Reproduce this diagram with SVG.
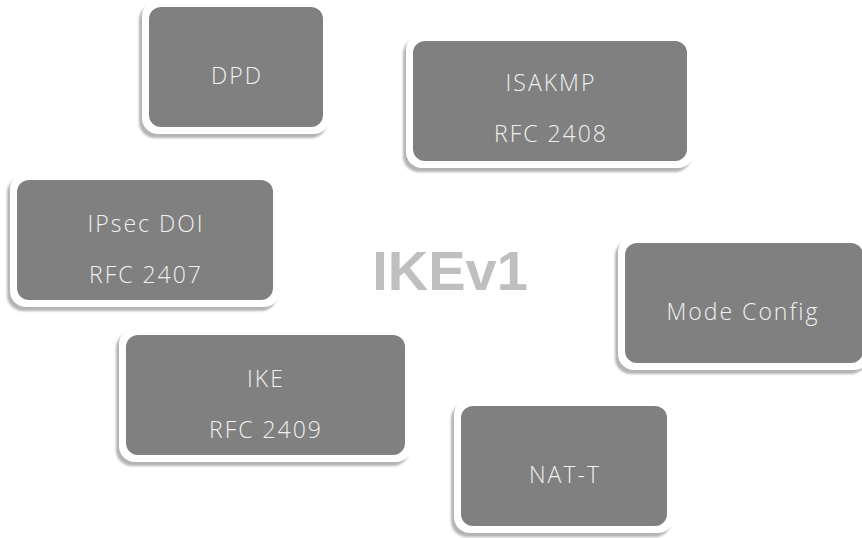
<svg xmlns="http://www.w3.org/2000/svg" width="862" height="538" viewBox="0 0 862 538">
<defs>
<filter id="sh" x="-10%" y="-10%" width="120%" height="130%">
<feGaussianBlur stdDeviation="1"/>
</filter>
</defs>
<style>
.shadow{fill:#b4b4b4;filter:url(#sh)}
.rim{fill:#ffffff}
.box{fill:#808080}
.lbl{font-family:"Open Sans","DejaVu Sans",sans-serif;font-weight:300;font-size:23px;letter-spacing:2px;fill:#f0f0f0;text-anchor:middle}
.title{font-family:"Liberation Sans",Arial,sans-serif;font-weight:bold;font-size:56px;fill:#bfbfbf;text-anchor:middle}
</style>
<rect width="862" height="538" fill="#ffffff"/>
<g id="connectors"></g>
<g id="dpd">
<rect class="shadow" x="139" y="4" width="188" height="134" rx="16"/>
<rect class="rim" x="142" y="0" width="188" height="134" rx="16"/>
<rect class="box" x="149" y="7" width="174" height="120" rx="12"/>
<text class="lbl" x="237" y="84">DPD</text>
</g>
<g id="isakmp">
<rect class="shadow" x="403" y="38" width="288" height="134" rx="16"/>
<rect class="rim" x="406" y="34" width="288" height="134" rx="16"/>
<rect class="box" x="413" y="41" width="274" height="120" rx="12"/>
<text class="lbl" x="551" y="91">ISAKMP</text>
<text class="lbl" x="551" y="142">RFC 2408</text>
</g>
<g id="ipsecdoi">
<rect class="shadow" x="7" y="177" width="270" height="134" rx="16"/>
<rect class="rim" x="10" y="173" width="270" height="134" rx="16"/>
<rect class="box" x="17" y="180" width="256" height="120" rx="12"/>
<text class="lbl" x="146" y="232">IPsec DOI</text>
<text class="lbl" x="146" y="283">RFC 2407</text>
</g>
<g id="modeconfig">
<rect class="shadow" x="615" y="240" width="252" height="134" rx="16"/>
<rect class="rim" x="618" y="236" width="252" height="134" rx="16"/>
<rect class="box" x="625" y="243" width="238" height="120" rx="12"/>
<text class="lbl" x="743" y="320">Mode Config</text>
</g>
<g id="ike">
<rect class="shadow" x="116" y="332" width="293" height="134" rx="16"/>
<rect class="rim" x="119" y="328" width="293" height="134" rx="16"/>
<rect class="box" x="126" y="335" width="279" height="120" rx="12"/>
<text class="lbl" x="266" y="387">IKE</text>
<text class="lbl" x="266" y="438">RFC 2409</text>
</g>
<g id="natt">
<rect class="shadow" x="451" y="403" width="220" height="134" rx="16"/>
<rect class="rim" x="454" y="399" width="220" height="134" rx="16"/>
<rect class="box" x="461" y="406" width="206" height="120" rx="12"/>
<text class="lbl" x="565" y="483">NAT-T</text>
</g>
<g id="ikev1">
<text class="title" x="450" y="290">IKEv1</text>
</g>
</svg>
